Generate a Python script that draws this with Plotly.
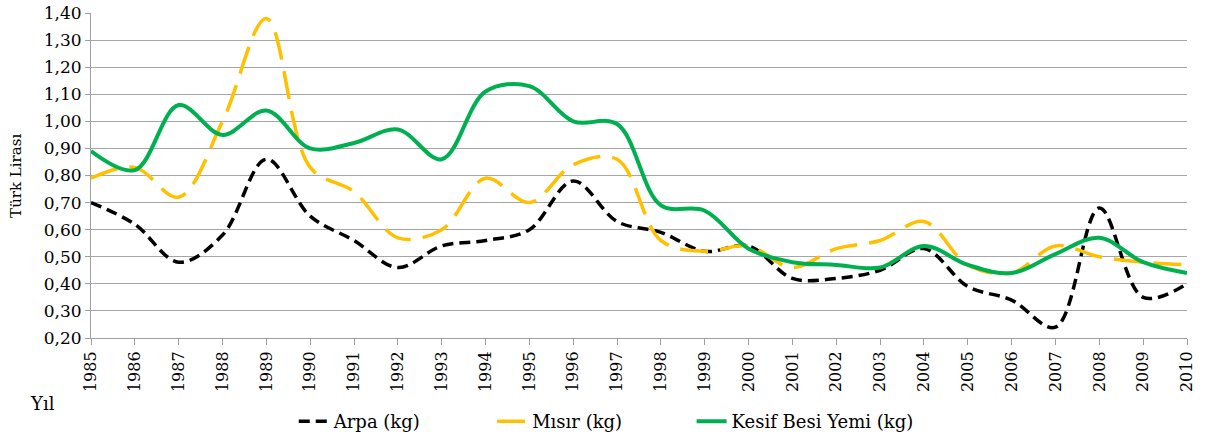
import plotly.graph_objects as go

years = list(range(1985, 2011))
arpa = [0.70, 0.62, 0.48, 0.58, 0.86, 0.65, 0.56, 0.46, 0.54, 0.56, 0.60, 0.78, 0.63,
        0.59, 0.52, 0.54, 0.42, 0.42, 0.45, 0.53, 0.39, 0.34, 0.24, 0.68, 0.35, 0.40]
misir = [0.79, 0.83, 0.72, 1.00, 1.38, 0.83, 0.74, 0.57, 0.60, 0.79, 0.70, 0.84, 0.86,
         0.56, 0.52, 0.54, 0.46, 0.53, 0.56, 0.63, 0.47, 0.44, 0.54, 0.50, 0.48, 0.47]
kesif = [0.89, 0.82, 1.06, 0.95, 1.04, 0.90, 0.92, 0.97, 0.86, 1.11, 1.13, 1.00, 0.99,
         0.69, 0.67, 0.53, 0.48, 0.47, 0.46, 0.54, 0.47, 0.44, 0.51, 0.57, 0.48, 0.44]
names = ["Arpa (kg)", "Mısır (kg)", "Kesif Besi Yemi (kg)"]
yticks = [0.2, 0.3, 0.4, 0.5, 0.6, 0.7, 0.8, 0.9, 1.0, 1.1, 1.2, 1.3, 1.4]

FONT = "DejaVu Serif"

fig = go.Figure()
fig.add_trace(go.Scatter(x=years, y=arpa, name=names[0], mode="lines", legend="legend",
                         line=dict(color="#000000", width=3.5, dash="11px,6px",
                                   shape="spline", smoothing=1.0)))
fig.add_trace(go.Scatter(x=years, y=misir, name=names[1], mode="lines", legend="legend2",
                         line=dict(color="#FFC000", width=3.5, dash="28px,12px",
                                   shape="spline", smoothing=1.0)))
fig.add_trace(go.Scatter(x=years, y=kesif, name=names[2], mode="lines", legend="legend3",
                         line=dict(color="#00B050", width=4,
                                   shape="spline", smoothing=1.0)))

leg = dict(orientation="h", xanchor="left", y=-0.2, yanchor="top",
           font=dict(family=FONT, size=18), bgcolor="rgba(0,0,0,0)")

fig.update_layout(
    width=1207, height=438,
    margin=dict(l=91, r=20, t=13, b=100, autoexpand=False),
    paper_bgcolor="white", plot_bgcolor="white",
    separators=",.",
    font=dict(family=FONT, size=15, color="#000000"),
    showlegend=True,
    legend=dict(leg, x=0.185),
    legend2=dict(leg, x=0.366),
    legend3=dict(leg, x=0.548),
    xaxis=dict(range=[1985, 2010], tickmode="array", tickvals=years,
               ticktext=[str(y) for y in years], tickangle=-90, automargin=False,
               showgrid=False, showline=True, linecolor="#a0a0a0", linewidth=1,
               ticks="outside", ticklen=6, tickcolor="#a0a0a0",
               tickfont=dict(family=FONT, size=16), zeroline=False),
    yaxis=dict(range=[0.2, 1.4], tickmode="array", tickvals=yticks, automargin=False,
               tickformat=".2f", showgrid=True, gridcolor="#a6a6a6", gridwidth=1,
               showline=True, linecolor="#a0a0a0", linewidth=1,
               ticks="outside", ticklen=5, tickcolor="#a0a0a0",
               tickfont=dict(family=FONT, size=17), zeroline=False),
)
fig.add_annotation(text="Türk Lirası", xref="paper", yref="paper", x=-0.069, y=0.5,
                   xanchor="center", yanchor="middle", showarrow=False, textangle=-90,
                   font=dict(family=FONT, size=15))
fig.add_annotation(text="Yıl", xref="paper", yref="paper", x=-0.044, y=-0.2,
                   xanchor="center", yanchor="middle", showarrow=False,
                   font=dict(family=FONT, size=18))

fig.write_html("out.html", config={"displayModeBar": False},
               post_script="document.body.style.margin='0';")
